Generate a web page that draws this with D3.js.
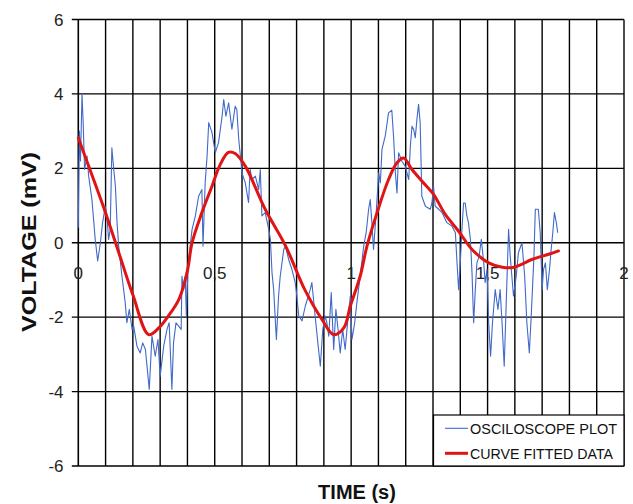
<!DOCTYPE html>
<html>
<head>
<meta charset="utf-8">
<script src="https://cdn.jsdelivr.net/npm/d3@7"></script>
<style>
  html, body { margin: 0; padding: 0; background: #fff; }
  svg { display: block; }
  text { font-family: "Liberation Sans", Arial, sans-serif; }
</style>
</head>
<body>
<svg id="chart" width="633" height="504"></svg>
<script>
// Oscilloscope trace (time in s, voltage in mV)
const scopeTime = [0,0.004,0.008,0.0136,0.018,0.023,0.032,0.038,0.05,0.062,0.071,0.081,0.089,0.099,0.105,0.111,0.117,0.123,0.13,0.136,0.142,0.148,0.16,0.172,0.178,0.187,0.197,0.203,0.215,0.227,0.236,0.246,0.26,0.27,0.282,0.292,0.3,0.313,0.325,0.333,0.343,0.349,0.358,0.368,0.377,0.38,0.386,0.392,0.396,0.402,0.41,0.417,0.429,0.441,0.453,0.457,0.465,0.472,0.478,0.49,0.502,0.514,0.527,0.533,0.541,0.551,0.563,0.575,0.581,0.588,0.594,0.6,0.612,0.624,0.63,0.636,0.649,0.661,0.667,0.673,0.685,0.698,0.704,0.71,0.716,0.726,0.734,0.74,0.753,0.759,0.771,0.783,0.795,0.801,0.808,0.82,0.832,0.85,0.856,0.868,0.878,0.887,0.896,0.905,0.911,0.918,0.927,0.936,0.944,0.952,0.96,0.969,0.978,0.988,0.997,1.003,1.013,1.021,1.033,1.046,1.055,1.064,1.07,1.076,1.082,1.091,1.101,1.107,1.113,1.125,1.137,1.149,1.156,1.162,1.168,1.174,1.186,1.198,1.211,1.217,1.223,1.229,1.235,1.241,1.247,1.253,1.259,1.272,1.29,1.296,1.302,1.308,1.321,1.333,1.351,1.369,1.382,1.388,1.394,1.4,1.406,1.412,1.418,1.424,1.43,1.437,1.443,1.449,1.455,1.461,1.469,1.477,1.486,1.491,1.498,1.504,1.511,1.518,1.528,1.538,1.546,1.553,1.561,1.568,1.577,1.583,1.589,1.595,1.605,1.613,1.626,1.636,1.644,1.653,1.66,1.67,1.675,1.686,1.693,1.7,1.705,1.712,1.719,1.727,1.733,1.739,1.745,1.752,1.757];
const scopeMv = [0.4,3.0,2.2,4.0,3.2,1.97,2.33,1.79,1.16,0.09,-0.49,0,0.54,0.98,0.72,0.09,0.36,2.55,1.97,1.52,0.54,-0.09,-0.9,-1.61,-2.15,-1.79,-2.33,-2.24,-2.78,-2.96,-2.69,-2.87,-3.94,-2.51,-3.05,-2.6,-3.59,-2.78,-2.33,-2.15,-3.94,-2.69,-2.15,-2.24,-2.33,-0.9,-1.26,-0.9,-1.97,-0.72,-0.09,0.36,0.72,1.25,1.43,-0.09,1.61,2.33,3.23,2.96,2.42,2.69,3.4,3.85,3.4,3.76,3.05,3.67,3.58,2.78,2.33,1.88,1.61,1.08,1.97,1.7,1.79,1.43,1.97,0.72,0.81,0.36,0.09,-0.81,-1.26,-2.6,-1.43,-0.9,-0.18,-0.09,-0.45,-0.72,-1.07,-1.43,-1.97,-2.1,-1.7,-1.26,-1.07,-1.97,-2.69,-3.32,-2.33,-1.97,-2.15,-2.51,-1.34,-2.87,-1.79,-2.33,-2.96,-2.33,-2.87,-2.06,-1.43,-2.6,-2.15,-1.61,-0.9,-0.09,0.27,0.9,1.16,0.54,-0.18,0.72,1.88,1.61,2.51,2.87,3.49,3.56,2.78,1.88,1.34,2.42,2.19,2.06,1.7,2.6,3.13,3.05,2.82,3.31,3.72,3.23,1.25,0.98,0.9,1.07,1.52,0.98,0.9,0.81,0.54,0.45,0.27,-0.54,-1.26,-0.54,0.36,1.07,1.07,0.72,0.54,0.09,-0.81,-2.15,-1.26,-0.54,-0.36,0.09,-0.54,-1.07,-0.72,-2.15,-3.05,-2.15,-1.26,-1.79,-1.26,-2.15,-3.32,-1.7,0.36,-0.36,-0.9,-1.43,-0.9,-0.27,0,-0.9,-2.15,-2.96,-1.97,-0.36,0.9,0.9,0.27,-1.26,-0.72,-0.54,-1.26,-0.72,-0.18,0.27,0.81,0.54,0.27];

// Curve-fitted data
const fitTime = [0,0.05,0.1,0.15,0.2,0.258,0.295,0.33,0.37,0.4,0.417,0.453,0.49,0.52,0.55,0.575,0.612,0.685,0.76,0.83,0.893,0.936,0.973,0.997,1.033,1.058,1.095,1.137,1.168,1.192,1.223,1.259,1.302,1.345,1.394,1.443,1.504,1.55,1.589,1.625,1.662,1.724,1.76];
const fitMv = [2.82,1.82,0.8,-0.3,-1.4,-2.47,-2.29,-1.97,-1.5,-0.75,0,0.81,1.52,2.1,2.43,2.4,2.06,0.9,-0.09,-1.26,-2.06,-2.47,-2.29,-1.7,-0.9,-0.09,0.81,1.7,2.15,2.28,1.97,1.66,1.3,0.76,0.31,-0.18,-0.54,-0.65,-0.67,-0.58,-0.45,-0.31,-0.22];

const xTicks = [0, 0.5, 1, 1.5, 2];
const xTickLabels = ["0", "0,5", "1", "1,5", "2"];
const yTicks = [-6, -4, -2, 0, 2, 4, 6];
const legendLabels = ["OSCILOSCOPE PLOT", "CURVE FITTED DATA"];

const svg = d3.select("#chart");
const plotLeft = 78.3, plotRight = 624, plotTop = 19.5, plotBottom = 466;

const x = d3.scaleLinear().domain([0, 2]).range([plotLeft, plotRight]);
const y = d3.scaleLinear().domain([-6, 6]).range([plotBottom, plotTop]);

const blue = "#4069c9";
const red = "#e01414";

// vertical grid every 0.1 s
const grid = svg.append("g").attr("stroke", "#000").attr("stroke-width", 1.4);
grid.selectAll("line.v").data(d3.range(1, 21).map(i => i / 10))
  .join("line").attr("class", "v")
  .attr("x1", d => x(d)).attr("x2", d => x(d))
  .attr("y1", y(6)).attr("y2", y(-6));

// horizontal grid every 2 mV
grid.selectAll("line.h").data(yTicks)
  .join("line").attr("class", "h")
  .attr("x1", plotLeft - 6.5).attr("x2", x(2))
  .attr("y1", d => y(d)).attr("y2", d => y(d));

// left axis line
svg.append("line").attr("x1", plotLeft).attr("x2", plotLeft)
  .attr("y1", y(6)).attr("y2", y(-6))
  .attr("stroke", "#000").attr("stroke-width", 1.6);

// y tick labels
svg.append("g").selectAll("text").data(yTicks).join("text")
  .attr("x", 63.5).attr("y", d => y(d) + 6)
  .attr("text-anchor", "end")
  .attr("font-size", 17).attr("fill", "#222")
  .text(d => d);

// x tick labels along the zero line
svg.append("g").selectAll("text").data(xTicks).join("text")
  .attr("x", d => x(d)).attr("y", y(0) + 36)
  .attr("text-anchor", "middle")
  .attr("font-size", 17).attr("fill", "#222")
  .text((d, i) => xTickLabels[i]);

// oscilloscope trace
const scope = scopeTime.map((t, i) => [t, scopeMv[i]]);
svg.append("path").datum(scope)
  .attr("fill", "none").attr("stroke", blue).attr("stroke-width", 1.1)
  .attr("stroke-linejoin", "round")
  .attr("d", d3.line().x(d => x(d[0])).y(d => y(d[1])));

// fitted curve
const fit = fitTime.map((t, i) => [t, fitMv[i]]);
svg.append("path").datum(fit)
  .attr("fill", "none").attr("stroke", red).attr("stroke-width", 3)
  .attr("stroke-linejoin", "round").attr("stroke-linecap", "round")
  .attr("d", d3.line().curve(d3.curveCatmullRom).x(d => x(d[0])).y(d => y(d[1])));

// axis titles
svg.append("text")
  .attr("x", 357).attr("y", 499)
  .attr("text-anchor", "middle")
  .attr("font-size", 20).attr("font-weight", "bold").attr("fill", "#111")
  .text("TIME (s)");

svg.append("text")
  .attr("transform", "translate(36,242) rotate(-90)")
  .attr("text-anchor", "middle")
  .attr("font-size", 21).attr("font-weight", "bold").attr("fill", "#111")
  .attr("textLength", 180).attr("lengthAdjust", "spacingAndGlyphs")
  .text("VOLTAGE (mV)");

// legend
const lg = svg.append("g");
lg.append("rect").attr("x", 433.5).attr("y", 415).attr("width", plotRight - 433.5).attr("height", plotBottom - 415)
  .attr("fill", "#fff").attr("stroke", "#000").attr("stroke-width", 1.2);
const legendColors = [blue, red];
const legendWidths = [1.1, 3];
const legendLens = [147, 143];
legendLabels.forEach((lab, i) => {
  const cy = 428.3 + i * 25;
  lg.append("line").attr("x1", 445).attr("x2", 468).attr("y1", cy).attr("y2", cy)
    .attr("stroke", legendColors[i]).attr("stroke-width", legendWidths[i]);
  lg.append("text").attr("x", 470).attr("y", cy + 6)
    .attr("font-size", 15).attr("fill", "#111")
    .attr("textLength", legendLens[i]).attr("lengthAdjust", "spacingAndGlyphs")
    .text(lab);
});
</script>
</body>
</html>
